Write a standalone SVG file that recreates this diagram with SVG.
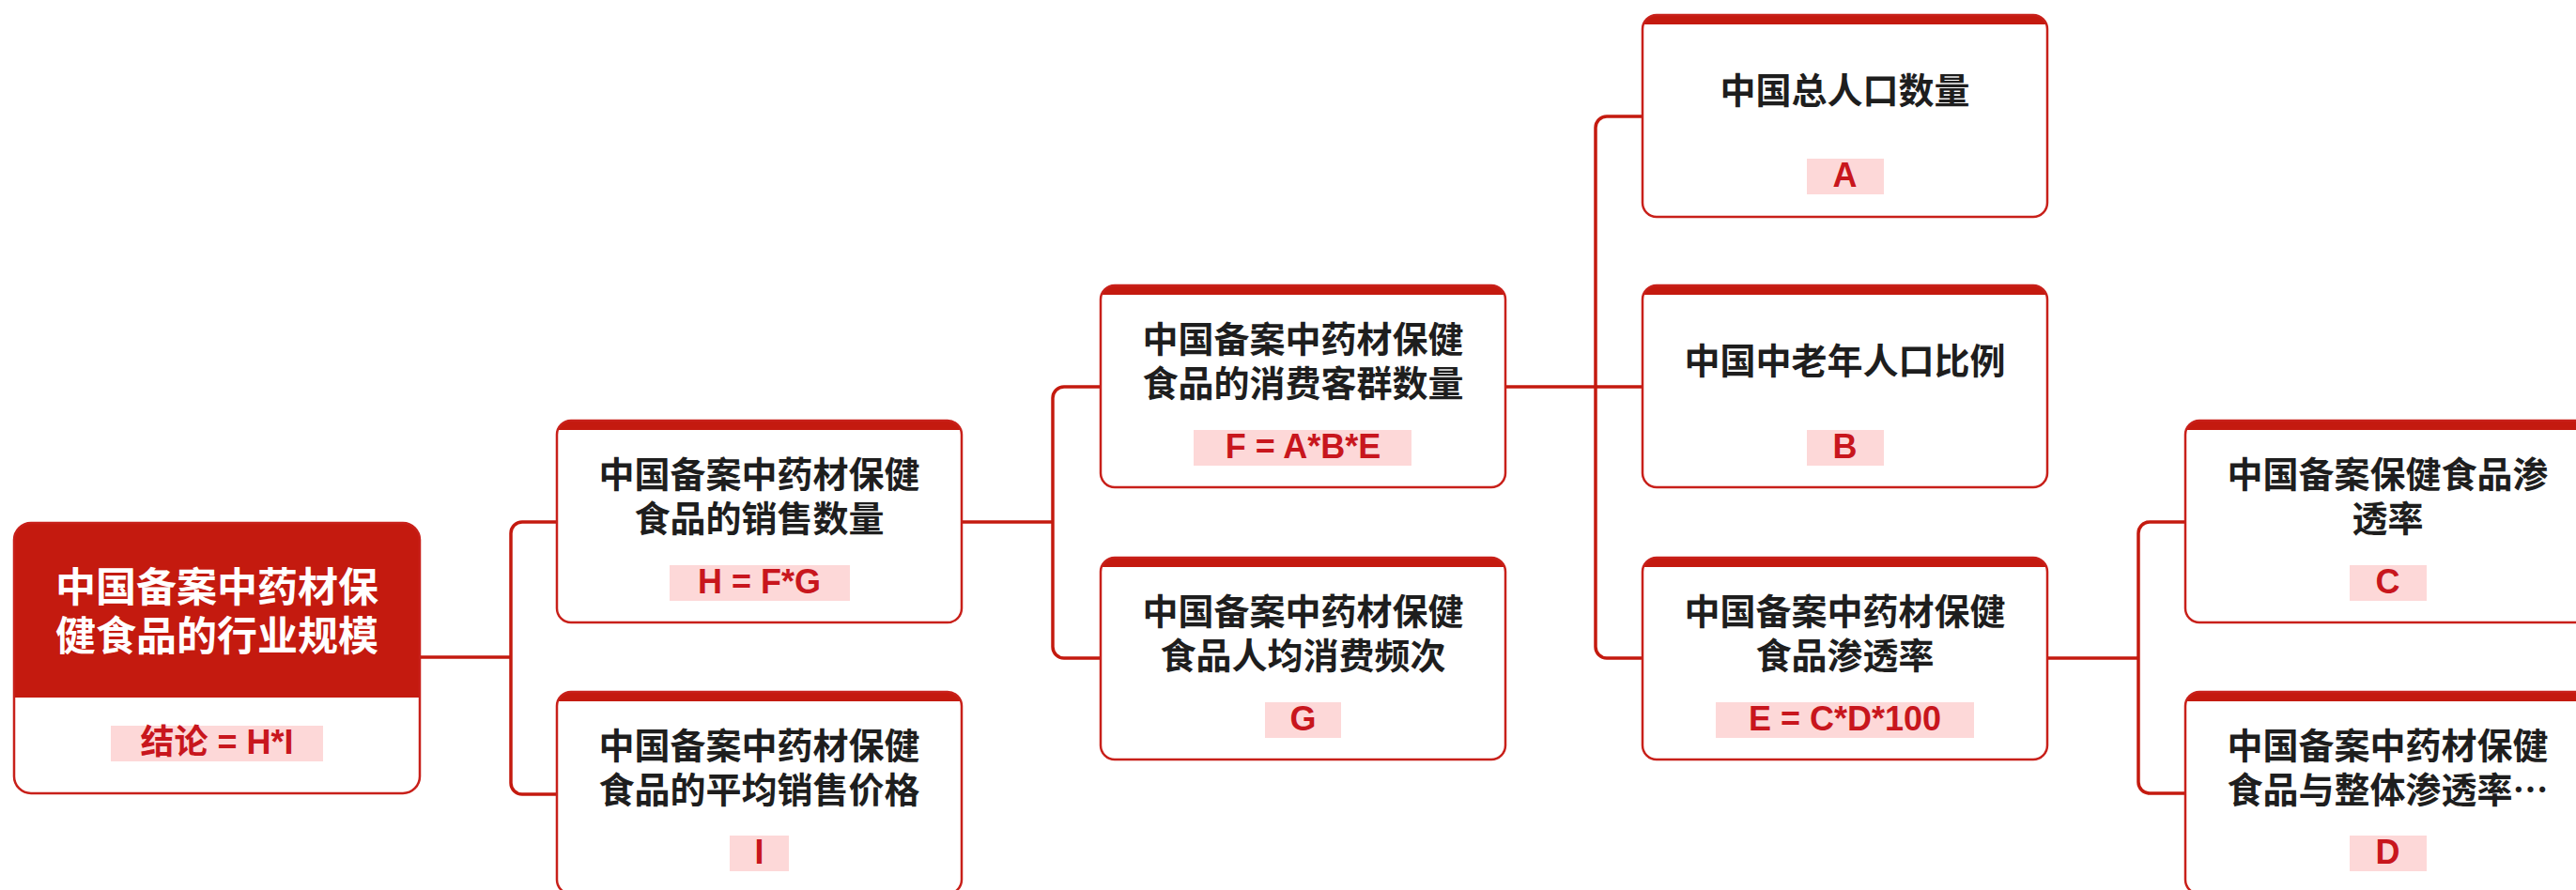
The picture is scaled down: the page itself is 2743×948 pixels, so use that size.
<svg xmlns="http://www.w3.org/2000/svg" width="2743" height="948" viewBox="0 0 2743 948">
<style>
.bg{fill:#ffffff}
.box{fill:none;stroke:#c8201a;stroke-width:2.5}
.bar{fill:#c41a0f}
.title{font-family:"Noto Sans CJK SC","Liberation Sans",sans-serif;font-weight:700;font-size:38px;fill:#1e1e1e;text-anchor:middle}
.rtitle{font-family:"Noto Sans CJK SC","Liberation Sans",sans-serif;font-weight:700;font-size:43px;fill:#ffffff;text-anchor:middle}
.lbg{fill:#fdd8d8}
.ltxt{font-family:"Liberation Sans","Noto Sans CJK SC",sans-serif;font-weight:700;font-size:36px;fill:#c8161d;text-anchor:middle}
.conn{fill:none;stroke:#c41a0f;stroke-width:3.5}
</style>
<defs>
<clipPath id="nclip" clipPathUnits="userSpaceOnUse"><rect x="0" y="0" width="431" height="215" rx="15" ry="15"/></clipPath>
<clipPath id="rclip" clipPathUnits="userSpaceOnUse"><rect x="0" y="0" width="432" height="288" rx="18" ry="18"/></clipPath>
</defs>
<rect x="0" y="0" width="2743" height="948" fill="#ffffff"/>

<g id="connectors">
<path class="conn" d="M447,700 H544"/>
<path class="conn" d="M593,556 H556 A12,12 0 0 0 544,568 V834 A12,12 0 0 0 556,846 H593"/>
<path class="conn" d="M1024,556 H1121"/>
<path class="conn" d="M1172,412 H1133 A12,12 0 0 0 1121,424 V689 A12,12 0 0 0 1133,701 H1172"/>
<path class="conn" d="M1603,412 H1749"/>
<path class="conn" d="M1749,124 H1711 A12,12 0 0 0 1699,136 V689 A12,12 0 0 0 1711,701 H1749"/>
<path class="conn" d="M2180,701 H2277"/>
<path class="conn" d="M2327,556 H2289 A12,12 0 0 0 2277,568 V833 A12,12 0 0 0 2289,845 H2327"/>
</g>

<g id="root" transform="translate(15,557)">
<rect class="bg" x="0" y="0" width="432" height="288" rx="18" ry="18"/>
<rect class="bar" x="0" y="0" width="432" height="186" clip-path="url(#rclip)"/>
<rect class="box" x="0" y="0" width="432" height="288" rx="18" ry="18"/>
<text class="rtitle" x="216" y="83.5">中国备案中药材保<tspan x="216" y="135.5">健食品的行业规模</tspan></text>
<rect class="lbg" x="103" y="216" width="226" height="38"/>
<text class="ltxt" x="216" y="246">结论 = H*I</text>
</g>

<g id="nodeH" transform="translate(593,448)">
<rect class="bg" x="0" y="0" width="431" height="215" rx="15" ry="15"/>
<rect class="bar" x="0" y="0" width="431" height="10" clip-path="url(#nclip)"/>
<rect class="box" x="0" y="0" width="431" height="215" rx="15" ry="15"/>
<text class="title" x="215.5" y="71">中国备案中药材保健<tspan x="215.5" y="118">食品的销售数量</tspan></text>
<rect class="lbg" x="120" y="154" width="192" height="38"/>
<text class="ltxt" x="215.5" y="184">H = F*G</text>
</g>

<g id="nodeI" transform="translate(593,737)">
<rect class="bg" x="0" y="0" width="431" height="215" rx="15" ry="15"/>
<rect class="bar" x="0" y="0" width="431" height="10" clip-path="url(#nclip)"/>
<rect class="box" x="0" y="0" width="431" height="215" rx="15" ry="15"/>
<text class="title" x="215.5" y="71">中国备案中药材保健<tspan x="215.5" y="118">食品的平均销售价格</tspan></text>
<rect class="lbg" x="184" y="153" width="63" height="38"/>
<text class="ltxt" x="215.5" y="183">I</text>
</g>

<g id="nodeF" transform="translate(1172,304)">
<rect class="bg" x="0" y="0" width="431" height="215" rx="15" ry="15"/>
<rect class="bar" x="0" y="0" width="431" height="10" clip-path="url(#nclip)"/>
<rect class="box" x="0" y="0" width="431" height="215" rx="15" ry="15"/>
<text class="title" x="215.5" y="71">中国备案中药材保健<tspan x="215.5" y="118">食品的消费客群数量</tspan></text>
<rect class="lbg" x="99" y="154" width="232" height="38"/>
<text class="ltxt" x="215.5" y="184">F = A*B*E</text>
</g>

<g id="nodeG" transform="translate(1172,594)">
<rect class="bg" x="0" y="0" width="431" height="215" rx="15" ry="15"/>
<rect class="bar" x="0" y="0" width="431" height="10" clip-path="url(#nclip)"/>
<rect class="box" x="0" y="0" width="431" height="215" rx="15" ry="15"/>
<text class="title" x="215.5" y="71">中国备案中药材保健<tspan x="215.5" y="118">食品人均消费频次</tspan></text>
<rect class="lbg" x="175" y="154" width="81" height="38"/>
<text class="ltxt" x="215.5" y="184">G</text>
</g>

<g id="nodeA" transform="translate(1749,16)">
<rect class="bg" x="0" y="0" width="431" height="215" rx="15" ry="15"/>
<rect class="bar" x="0" y="0" width="431" height="10" clip-path="url(#nclip)"/>
<rect class="box" x="0" y="0" width="431" height="215" rx="15" ry="15"/>
<text class="title" x="215.5" y="93.5">中国总人口数量</text>
<rect class="lbg" x="175" y="153" width="82" height="38"/>
<text class="ltxt" x="215.5" y="183">A</text>
</g>

<g id="nodeB" transform="translate(1749,304)">
<rect class="bg" x="0" y="0" width="431" height="215" rx="15" ry="15"/>
<rect class="bar" x="0" y="0" width="431" height="10" clip-path="url(#nclip)"/>
<rect class="box" x="0" y="0" width="431" height="215" rx="15" ry="15"/>
<text class="title" x="215.5" y="94">中国中老年人口比例</text>
<rect class="lbg" x="175" y="154" width="82" height="38"/>
<text class="ltxt" x="215.5" y="184">B</text>
</g>

<g id="nodeE" transform="translate(1749,594)">
<rect class="bg" x="0" y="0" width="431" height="215" rx="15" ry="15"/>
<rect class="bar" x="0" y="0" width="431" height="10" clip-path="url(#nclip)"/>
<rect class="box" x="0" y="0" width="431" height="215" rx="15" ry="15"/>
<text class="title" x="215.5" y="71">中国备案中药材保健<tspan x="215.5" y="118">食品渗透率</tspan></text>
<rect class="lbg" x="78" y="154" width="275" height="38"/>
<text class="ltxt" x="215.5" y="184">E = C*D*100</text>
</g>

<g id="nodeC" transform="translate(2327,448)">
<rect class="bg" x="0" y="0" width="431" height="215" rx="15" ry="15"/>
<rect class="bar" x="0" y="0" width="431" height="10" clip-path="url(#nclip)"/>
<rect class="box" x="0" y="0" width="431" height="215" rx="15" ry="15"/>
<text class="title" x="215.5" y="71">中国备案保健食品渗<tspan x="215.5" y="118">透率</tspan></text>
<rect class="lbg" x="175" y="154" width="82" height="38"/>
<text class="ltxt" x="215.5" y="184">C</text>
</g>

<g id="nodeD" transform="translate(2327,737)">
<rect class="bg" x="0" y="0" width="431" height="215" rx="15" ry="15"/>
<rect class="bar" x="0" y="0" width="431" height="10" clip-path="url(#nclip)"/>
<rect class="box" x="0" y="0" width="431" height="215" rx="15" ry="15"/>
<text class="title" x="215.5" y="71">中国备案中药材保健<tspan x="215.5" y="118">食品与整体渗透率…</tspan></text>
<rect class="lbg" x="175" y="153" width="82" height="38"/>
<text class="ltxt" x="215.5" y="183">D</text>
</g>
</svg>
